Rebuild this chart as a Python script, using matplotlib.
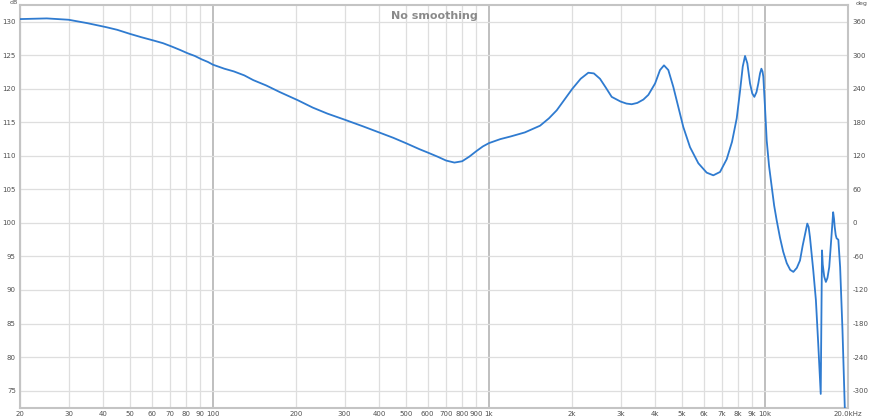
import numpy as np
import matplotlib
matplotlib.use("Agg")
import matplotlib.pyplot as plt
from matplotlib.ticker import FixedLocator, NullLocator

# frequency response (Hz, dB)
freq = [20, 25, 30, 35, 41, 45, 50, 55, 61, 66, 71, 76, 81, 86, 91, 96, 100,
        110, 119, 130, 140, 156, 175, 203, 230, 260, 300, 350, 400, 450, 500,
        560, 600, 650, 700, 750, 800, 850, 900, 950, 1000, 1100, 1200, 1350,
        1532, 1650, 1761, 1880, 2005, 2150, 2292, 2400, 2526, 2650, 2785, 3000,
        3150, 3291, 3450, 3628, 3782, 4000, 4168, 4308, 4467, 4656, 4853, 5062,
        5353, 5738, 6152, 6501, 6876, 7270, 7600, 7904, 8122, 8310, 8472, 8636,
        8832, 9000, 9156, 9320, 9464, 9600, 9710, 9800, 9868, 10000, 10150,
        10350, 10580, 10800, 11030, 11340, 11650, 12000, 12350, 12680, 13050,
        13400, 13700, 13960, 14240, 14400, 14560, 14760, 14970, 15300, 15600,
        15930, 16100, 16200, 16400, 16630, 16850, 17100, 17300, 17450, 17670,
        17800, 17900, 18050, 18190, 18450, 18730, 19100, 19500]
db = [130.4, 130.5, 130.3, 129.8, 129.2, 128.8, 128.2, 127.7, 127.2, 126.8,
      126.3, 125.8, 125.3, 124.9, 124.4, 124.0, 123.6, 123.0, 122.6, 122.0,
      121.3, 120.5, 119.5, 118.3, 117.2, 116.3, 115.4, 114.4, 113.5, 112.7,
      111.9, 111.0, 110.5, 109.9, 109.3, 109.0, 109.2, 109.9, 110.7, 111.4,
      111.9, 112.5, 112.9, 113.5, 114.5, 115.6, 116.8, 118.4, 120.0, 121.5,
      122.4, 122.3, 121.5, 120.2, 118.8, 118.1, 117.8, 117.7, 117.9, 118.4,
      119.1, 120.8, 122.8, 123.5, 122.8, 120.3, 117.3, 114.3, 111.3, 108.9,
      107.5, 107.1, 107.6, 109.5, 112.1, 115.6, 119.6, 123.3, 124.9, 123.8,
      120.8, 119.3, 118.8, 119.5, 120.8, 122.3, 123.0, 122.6, 121.8, 117.5,
      112.3, 108.5, 105.4, 102.6, 100.4, 97.8, 95.7, 94.0, 93.0, 92.7, 93.3,
      94.4, 96.6, 98.2, 99.9, 99.4, 97.9, 95.5, 92.9, 88.5, 82.0, 74.5, 95.9,
      93.8, 92.0, 91.2, 91.8, 93.4, 96.2, 98.4, 101.6, 100.6, 99.4, 98.2, 97.7,
      97.5, 93.4, 84.0, 71.6]

xticks = [20, 30, 40, 50, 60, 70, 80, 90, 100, 200, 300, 400, 500, 600, 700,
          800, 900, 1000, 2000, 3000, 4000, 5000, 6000, 7000, 8000, 9000,
          10000, 20000]
xlabels = ["20", "30", "40", "50", "60", "70", "80", "90", "100", "200", "300",
           "400", "500", "600", "700", "800", "900", "1k", "2k", "3k", "4k",
           "5k", "6k", "7k", "8k", "9k", "10k", "20.0kHz"]
db_ticks = list(range(75, 131, 5))
deg_ticks = list(range(-300, 361, 60))

fig = plt.figure(figsize=(8.77, 4.19), dpi=100)
ax = fig.add_axes([20 / 877, 11 / 419, 828 / 877, 403 / 419])

ylo, yhi = 72.4, 132.5
ax.set_xscale("log")
ax.set_xlim(20, 20000)
ax.set_ylim(ylo, yhi)

# grid
for t in xticks:
    if t in (100, 1000, 10000):
        ax.axvline(t, color="#b4b4b4", lw=1.2, zorder=1)
    else:
        ax.axvline(t, color="#dedede", lw=0.9, zorder=1)
for t in db_ticks:
    ax.axhline(t, color="#dedede", lw=0.9, zorder=1)

ax.plot(freq, db, color="#2f7bd0", lw=1.3, zorder=3, solid_joinstyle="round")

ax.xaxis.set_major_locator(FixedLocator(xticks))
ax.xaxis.set_minor_locator(NullLocator())
ax.set_xticklabels(xlabels)
ax.set_yticks(db_ticks)
ax.set_yticklabels([str(t) for t in db_ticks])
ax.tick_params(axis="both", length=0, labelsize=5, colors="#505050", pad=2)
ax.tick_params(axis="y", pad=3)

for s in ax.spines.values():
    s.set_color("#c4c4c4")
    s.set_linewidth(1.5)

ax2 = ax.twinx()
ax2.set_ylim((ylo - 100) * 12, (yhi - 100) * 12)
ax2.set_yticks(deg_ticks)
ax2.set_yticklabels([str(t) for t in deg_ticks])
ax2.tick_params(axis="y", length=0, labelsize=5, colors="#505050", pad=3)
for s in ax2.spines.values():
    s.set_visible(False)

ax.text(0.5, 0.985, "No smoothing", transform=ax.transAxes, ha="center",
        va="top", fontsize=8, fontweight="bold", color="#8a8a8a")
fig.text(14 / 877, 1 - 3 / 419, "dB", fontsize=4.5, color="#505050",
         ha="center", va="center")
fig.text(862 / 877, 1 - 3 / 419, "deg", fontsize=4.5, color="#505050",
         ha="center", va="center")

fig.savefig("out.png", dpi=100)
